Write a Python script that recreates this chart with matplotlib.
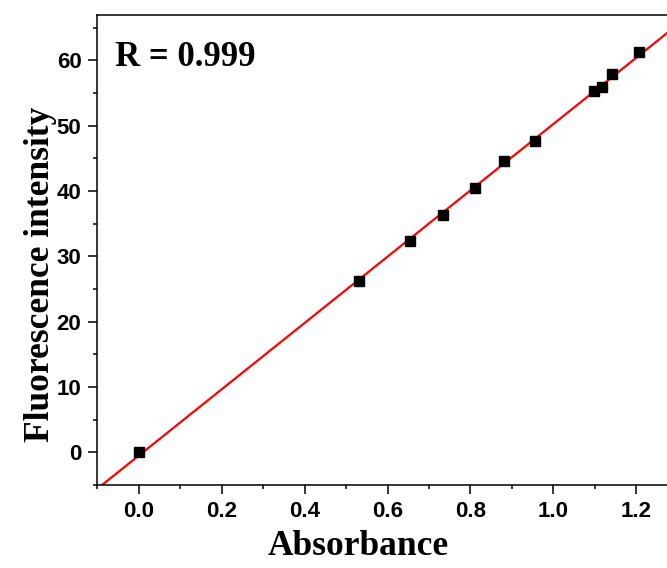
import numpy as np
import matplotlib.pyplot as plt
from matplotlib.ticker import MultipleLocator

# absorbance vs fluorescence intensity
absorbance = [0.0, 0.531, 0.655, 0.735, 0.810, 0.882, 0.955, 1.098, 1.118, 1.142, 1.207]
intensity = [0.1, 26.2, 32.3, 36.3, 40.5, 44.6, 47.6, 55.3, 56.0, 58.0, 61.3]
r_text = "R = 0.999"

fig = plt.figure(figsize=(6.67, 5.68), dpi=100)
ax = fig.add_axes([0.146, 0.146, 0.87, 0.828])

# linear fit
k, b = np.polyfit(absorbance, intensity, 1)
xl = np.array([-0.1, 1.32])
ax.plot(xl, k*xl + b, color='red', lw=1.6, zorder=2)
ax.plot(absorbance, intensity, 's', color='black', ms=6.5, zorder=3)

ax.set_xlim(-0.1, 1.3)
ax.set_ylim(-5, 67)
ax.xaxis.set_major_locator(MultipleLocator(0.2))
ax.xaxis.set_minor_locator(MultipleLocator(0.1))
ax.yaxis.set_major_locator(MultipleLocator(10))
ax.yaxis.set_minor_locator(MultipleLocator(5))
ax.tick_params(which='both', direction='out', top=False, right=False, width=1.1)
ax.tick_params(which='major', length=6.5, pad=5)
ax.tick_params(which='minor', length=3.2)
for lab in ax.get_xticklabels() + ax.get_yticklabels():
    lab.set_fontfamily('Liberation Sans')
    lab.set_fontweight('bold')
    lab.set_fontsize(16)
for s in ax.spines.values():
    s.set_linewidth(1.1)

ax.set_xlabel('Absorbance', fontfamily='Liberation Serif', fontweight='bold', fontsize=25.5, labelpad=6)
ax.set_ylabel('Fluorescence intensity', fontfamily='Liberation Serif', fontweight='bold', fontsize=25.5, labelpad=0)
ax.xaxis.label.set_x(0.45)
ax.yaxis.label.set_y(0.449)
ax.text(0.03, 0.91, r_text, transform=ax.transAxes, fontfamily='Liberation Serif',
        fontweight='bold', fontsize=25, va='center', ha='left')

plt.savefig('out.png', dpi=100)
